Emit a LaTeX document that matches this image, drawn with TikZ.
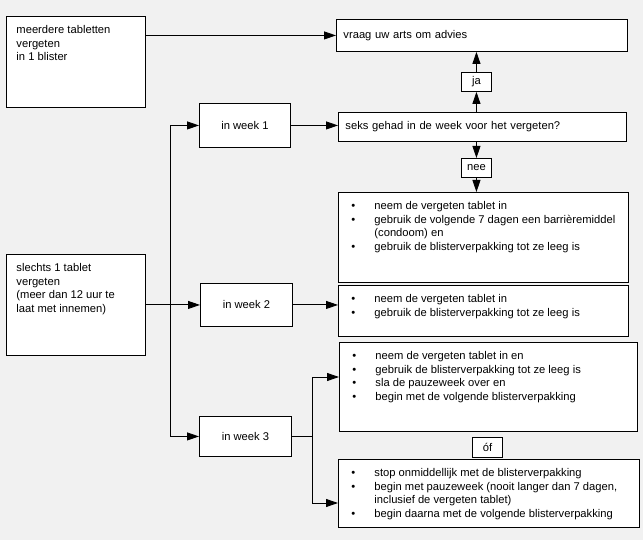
\documentclass[tikz,border=0pt]{standalone}
\usepackage{fontspec}
\setmainfont{Liberation Sans}
\usepackage{tikz}
\usetikzlibrary{arrows.meta}
\definecolor{achtergrond}{RGB}{241,241,241}
\newcommand{\vakje}[3]{\parbox[t][#2][t]{#1}{\raggedright #3}}
\newcommand{\punt}{\par\hangindent=26pt\noindent\makebox[26pt][l]{\hspace{3pt}\textbullet}}
\tikzset{
	vak/.style={draw, fill=white, anchor=north west, inner xsep=10pt, inner ysep=9pt},
	blok/.style={draw, fill=white, anchor=north west, inner sep=0pt},
	pijl/.style={-{Triangle[length=12pt,width=8pt]}},
}

\begin{document}
\begin{tikzpicture}[x=1pt, y=-1pt, line width=0.9pt, font=\fontsize{11.2}{13.5}\selectfont]
	\fill[achtergrond] (0,0) rectangle (643,540);
	\node[vak] (meerdere) at (6,16) {\vakje{119pt}{73pt}{meerdere tabletten\newline vergeten\newline in 1 blister}};
	\node[vak] (slechts) at (6,254) {\vakje{119pt}{83pt}{slechts 1 tablet\newline vergeten\newline (meer dan 12 uur te\newline laat met innemen)}};
	\node[blok, minimum width=91pt, minimum height=44pt] (week1) at (199,103) {in week 1};
	\node[blok, minimum width=92pt, minimum height=43pt] (week2) at (200,283) {in week 2};
	\node[blok, minimum width=92pt, minimum height=40pt] (week3) at (199,416) {in week 3};
	\node[blok, minimum width=291pt, minimum height=32pt, text width=277pt, align=left] (vraag) at (336,19) {vraag uw arts om advies};
	\node[blok, minimum width=288pt, minimum height=29pt, text width=274pt, align=left] (seks) at (338,112) {seks gehad in de week voor het vergeten?};
	\node[blok, minimum width=30pt, minimum height=19pt] (ja) at (461,72) {ja};
	\node[blok, minimum width=30pt, minimum height=19pt] (nee) at (461,158) {nee};
	\node[blok, minimum width=30pt, minimum height=20pt] (of) at (472,437) {óf};
	\node[vak] (stap1) at (338,192) {\vakje{270pt}{72pt}{\punt neem de vergeten tablet in \punt gebruik de volgende 7 dagen een barrièremiddel\newline (condoom) en \punt gebruik de blisterverpakking tot ze leeg is}};
	\node[vak] (stap2) at (338,285) {\vakje{270pt}{33pt}{\punt neem de vergeten tablet in \punt gebruik de blisterverpakking tot ze leeg is}};
	\node[vak] (stap3a) at (339,342) {\vakje{278pt}{71pt}{\punt neem de vergeten tablet in en \punt gebruik de blisterverpakking tot ze leeg is \punt sla de pauzeweek over en \punt begin met de volgende blisterverpakking}};
	\node[vak] (stap3b) at (338,459) {\vakje{281pt}{50pt}{\punt stop onmiddellijk met de blisterverpakking \punt begin met pauzeweek (nooit langer dan 7 dagen,\newline inclusief de vergeten tablet) \punt begin daarna met de volgende blisterverpakking}};
	\coordinate (tak) at (170,305);
	\coordinate (tak3a) at (312,377);
	\coordinate (tak3b) at (312,503);
	\draw[pijl] (meerdere.east |- vraag.west) -- (vraag.west);
	\draw[pijl] (ja.south |- seks.north) -- (ja.south);
	\draw[pijl] (ja.north) -- (ja.north |- vraag.south);
	\draw[pijl] (nee.north |- seks.south) -- (nee.north);
	\draw[pijl] (nee.south) -- (nee.south |- stap1.north);
	\draw[pijl] (slechts.east) -- (week2.west);
	\draw (tak |- week1.west) -- (tak |- week3.west);
	\draw[pijl] (tak |- week1.west) -- (week1.west);
	\draw[pijl] (tak |- week3.west) -- (week3.west);
	\draw[pijl] (week1.east) -- (week1.east -| seks.west);
	\draw[pijl] (week2.east) -- (week2.east -| stap2.west);
	\draw (week3.east) -- (week3.east -| tak3a);
	\draw (tak3a) -- (tak3b);
	\draw[pijl] (tak3a) -- (tak3a -| stap3a.west);
	\draw[pijl] (tak3b) -- (tak3b -| stap3b.west);
\end{tikzpicture}
\end{document}
